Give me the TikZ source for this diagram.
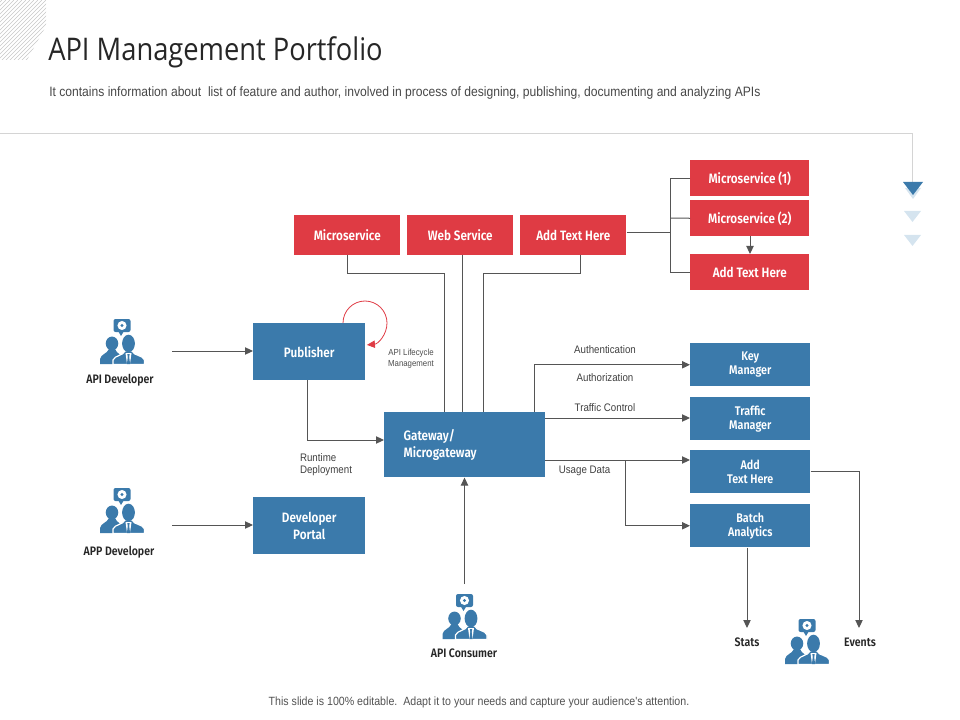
\documentclass[tikz,border=0pt]{standalone}
\usepackage{fontspec}
\setmainfont{Liberation Sans}
\newfontfamily\titlefont[FakeStretch=0.875]{Open Sans}
\newfontfamily\bodyfont[FakeStretch=0.89]{Liberation Sans}
\newfontfamily\boldfont[FakeStretch=0.86]{Fira Sans SemiBold}
\usetikzlibrary{arrows.meta}
\definecolor{boxblue}{HTML}{3B7AAB}
\definecolor{boxred}{HTML}{DF3B44}
\definecolor{conn}{HTML}{555555}
\definecolor{softblue}{HTML}{D5E4EF}
\definecolor{rulegray}{HTML}{D4D4D4}
\tikzset{
  x=0.75pt,y=-0.75pt,
  redbox/.style={fill=boxred,text=white,font=\boldfont\fontsize{10.2}{12}\selectfont,align=center,inner sep=0pt,anchor=north west},
  bluebox/.style={fill=boxblue,text=white,font=\boldfont\fontsize{10.2}{12}\selectfont,align=center,inner sep=0pt,anchor=north west},
  smallbox/.style={fill=boxblue,text=white,font=\boldfont\fontsize{9.4}{10.5}\selectfont,align=center,inner sep=0pt,anchor=north west},
  conline/.style={draw=conn,line width=0.75pt},
  conarrow/.style={conline,-{Triangle[length=6pt,width=5.5pt]}},
  lbl/.style={font=\bodyfont\fontsize{8.2}{9}\selectfont,text=black!75,inner sep=0pt,align=center},
  tinylbl/.style={font=\bodyfont\fontsize{6.6}{8}\selectfont,text=black!70,inner sep=0pt,align=center},
  actor/.style={font=\boldfont\fontsize{9.2}{10}\selectfont,text=black!85,inner sep=0pt},
  person/.pic={
    \fill[boxblue,rounded corners=1.5pt] (-8.5,-45) rectangle (8.5,-32);
    \fill[boxblue] (-4,-33) -- (-1,-28) -- (2,-33) -- cycle;
    \fill[white] (0,-38.5) circle[radius=3.4pt];
    \fill[boxblue] (0,-38.5) circle[radius=1.2pt];
    \fill[boxblue] (-10,-20.5) ellipse[x radius=4.7pt,y radius=5.2pt];
    \fill[boxblue] (-22,0) -- (-22,-5) .. controls (-21,-10) and (-15,-10) .. (-13,-15)
       -- (-7,-15) .. controls (-5,-10) and (-1,-10) .. (2,-5) -- (2,0) -- cycle;
    \fill[white] (6.5,-20.5) ellipse[x radius=5.7pt,y radius=7.4pt];
    \fill[boxblue,draw=white,line width=0.9pt] (-9,0.5) -- (-9,-4) .. controls (-7,-9) and (1,-8) .. (3,-13)
       -- (10,-13) .. controls (12,-8) and (21,-9) .. (22.5,-4) -- (22.5,0.5) -- cycle;
    \fill[boxblue] (6.5,-20.5) ellipse[x radius=4.8pt,y radius=6.6pt];
    \fill[white] (3.5,-11) -- (9.5,-11) -- (8,0) -- (5,0) -- cycle;
    \fill[boxblue] (5.3,-10) -- (7.7,-10) -- (7.2,-7) -- (8.1,0) -- (4.9,0) -- (5.8,-7) -- cycle;
  }
}
\begin{document}
\begin{tikzpicture}
\useasboundingbox (0,0) rectangle (960,720);
% corner hatching
\begin{scope}
\clip (0,0) -- (46,0) -- (46,26) -- (27,60) -- (0,60) -- cycle;
\foreach \k in {-66,-62,...,50}{\draw[black!22,line width=0.5pt] (\k-5,65) -- (\k+60,0);}
\end{scope}
% header
\node[anchor=base west,inner sep=0pt,font=\titlefont\fontsize{23.4}{26}\selectfont,text=black!85] (title) at (48,60.5) {API Management Portfolio};
\node[anchor=west,inner sep=0pt,font=\bodyfont\fontsize{10.2}{12}\selectfont,text=black!72] (sub) at (49,93) {It contains information about\ \ list of feature and author, involved in process of designing,\ publishing, documenting and analyzing APIs};
\node[anchor=center,inner sep=0pt,font=\bodyfont\fontsize{8.95}{10}\selectfont,text=black!68] (foot) at (479,702) {This slide is 100\% editable.\ \ Adapt it to your needs and capture your audience's attention.};
% rule and triangles
\coordinate (ruleA) at (0,134);
\coordinate (ruleB) at (912,134);
\coordinate (ruleC) at (912,184);
\draw[rulegray,line width=0.75pt] (ruleA) -- (ruleB) -- (ruleC);
\fill[softblue] (905,188) -- (921,188) -- (913,199) -- cycle;
\fill[boxblue] (903,182) -- (923,182) -- (913,195) -- cycle;
\fill[softblue] (904,211) -- (921,211) -- (912.5,222) -- cycle;
\fill[softblue] (904,235) -- (921,235) -- (912.5,246) -- cycle;
% red boxes
\node[redbox,minimum width=79.5pt,minimum height=30pt] (ms) at (294,215) {Microservice};
\node[redbox,minimum width=79.5pt,minimum height=30pt] (ws) at (407,215) {Web Service};
\node[redbox,minimum width=79.5pt,minimum height=30pt] (ath) at (520,215) {Add Text Here};
\node[redbox,minimum width=89.25pt,minimum height=27pt] (ms1) at (690,160) {Microservice (1)};
\node[redbox,minimum width=89.25pt,minimum height=27pt] (ms2) at (690,200) {Microservice (2)};
\node[redbox,minimum width=89.25pt,minimum height=27pt] (ath2) at (690,254) {Add Text Here};
% blue boxes
\node[bluebox,minimum width=84pt,minimum height=42.75pt] (pub) at (253,323) {Publisher};
\node[bluebox,minimum width=84pt,minimum height=42.75pt] (dev) at (253,497) {Developer\\[1pt]Portal};
\node[bluebox,minimum width=120.75pt,minimum height=48.75pt,align=left,text width=120.75pt] (gw) at (384,412) {\hspace{14.5pt}Gateway/\\[1pt]\hspace{14.5pt}Microgateway};
\node[smallbox,minimum width=90pt,minimum height=32.25pt] (key) at (690,343) {Key\\Manager};
\node[smallbox,minimum width=90pt,minimum height=32.25pt] (tm) at (690,397) {Traffic\\Manager};
\node[smallbox,minimum width=90pt,minimum height=32.25pt] (add) at (690,450) {Add\\Text Here};
\node[smallbox,minimum width=90pt,minimum height=32.25pt] (batch) at (690,504) {Batch\\Analytics};
% actors
\pic at (122,364) {person};
\pic at (122,533) {person};
\pic at (464.5,639) {person};
\pic at (807,664) {person};
\node[actor] (a1) at (120,380.5) {API Developer};
\node[actor] (a2) at (119,552.5) {APP Developer};
\node[actor] (a3) at (464,653.5) {API Consumer};
\node[actor] (stats) at (747,642.5) {Stats};
\node[actor] (events) at (860,642.5) {Events};
% labels
\node[lbl] (l1) at (605,350) {Authentication};
\node[lbl] (l2) at (605,378) {Authorization};
\node[lbl] (l3) at (605,408) {Traffic Control};
\node[lbl] (l4) at (584.5,471) {Usage Data};
\node[lbl,align=left] (l5) at (326,464.5) {Runtime\\Deployment};
\node[tinylbl] (l6) at (411,359) {API Lifecycle\\Management};
% connectors into gateway
\coordinate (gwa) at (444,412);
\coordinate (gwb) at (462,412);
\coordinate (gwc) at (483,412);
\coordinate (msb) at (347,255);
\coordinate (athb) at (580,255);
\coordinate (wsb) at (462,255);
\draw[conline] (msb) |- (444,274) -- (gwa);
\draw[conline] (wsb) -- (gwb);
\draw[conline] (athb) |- (483,274) -- (gwc);
% fan to microservices
\coordinate (fan) at (670,233);
\draw[conline] (ath.east |- fan) -- (fan);
\draw[conline] (ms1.west) -| (fan);
\draw[conline] (ath2.west) -| (fan);
\draw[conline] (ms2.west) -- (670,218);
\draw[conarrow] (750,236) -- (750,254);
% actor arrows
\coordinate (d1) at (172,351);
\coordinate (d2) at (172,525);
\coordinate (d3) at (464.5,584);
\draw[conarrow] (d1) -- (pub.west |- d1);
\draw[conarrow] (d2) -- (dev.west |- d2);
\draw[conarrow] (d3) -- (gw.south -| d3);
% publisher to gateway
\coordinate (pubb) at (307.5,380);
\draw[conarrow] (pubb) |- (384,440);
% gateway outputs
\coordinate (gwk) at (534,412);
\draw[conarrow] (gwk) |- (key.west);
\draw[conarrow] (545,418) -- (tm.west |- 0,418);
\draw[conarrow] (545,460) -- (690,460);
\coordinate (split) at (625,460);
\draw[conarrow] (split) |- (batch.west);
% sinks
\coordinate (st) at (747,628);
\coordinate (ev) at (859,628);
\draw[conarrow] (st |- batch.south) -- (st);
\draw[conarrow] (add.east) -| (ev);
% lifecycle arc
\draw[boxred,line width=0.6pt,-{Triangle[length=6pt,width=5.5pt]}] (343,323) arc[start angle=180,end angle=-85,radius=16.5pt];
\end{tikzpicture}
\end{document}
